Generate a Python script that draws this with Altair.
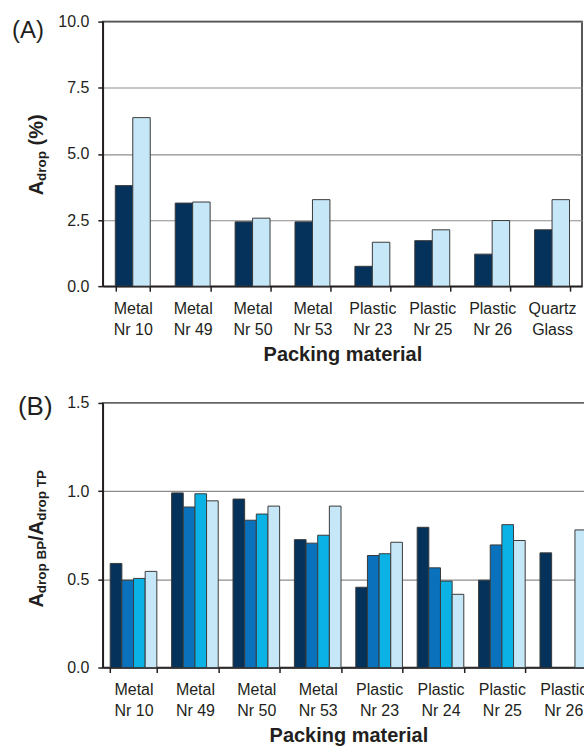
import altair as alt
import pandas as pd

# ---- data -----------------------------------------------------------------
materials_a = ["Metal|Nr 10", "Metal|Nr 49", "Metal|Nr 50", "Metal|Nr 53",
               "Plastic|Nr 23", "Plastic|Nr 25", "Plastic|Nr 26", "Quartz|Glass"]
series_a = ["A1", "A2"]
a_series1 = [3.80, 3.14, 2.43, 2.43, 0.75, 1.72, 1.21, 2.13]
a_series2 = [6.37, 3.18, 2.57, 3.27, 1.66, 2.13, 2.48, 3.27]
ticks_a = [0.0, 2.5, 5.0, 7.5, 10.0]

materials_b = ["Metal|Nr 10", "Metal|Nr 49", "Metal|Nr 50", "Metal|Nr 53",
               "Plastic|Nr 23", "Plastic|Nr 24", "Plastic|Nr 25", "Plastic|Nr 26"]
series_b = ["B1", "B2", "B3", "B4"]
b_series1 = [0.59, 0.99, 0.955, 0.725, 0.455, 0.795, 0.495, 0.65]
b_series2 = [0.495, 0.91, 0.835, 0.705, 0.635, 0.565, 0.695, None]
b_series3 = [0.505, 0.985, 0.87, 0.75, 0.645, 0.49, 0.81, None]
b_series4 = [0.545, 0.945, 0.915, 0.915, 0.71, 0.415, 0.72, 0.78]
ticks_b = [0.0, 0.5, 1.0, 1.5]

colors_a = ["#04325a", "#c6e7f8"]
colors_b = ["#04325a", "#0a72bd", "#0bb2e6", "#c6e7f8"]

FONT = "Liberation Sans"
INK = "#231f20"


def long_table(materials, series, columns):
    rows = []
    for name, vals in zip(series, columns):
        for mat, v in zip(materials, vals):
            if v is not None:
                rows.append({"material": mat, "series": name, "value": v})
    return pd.DataFrame(rows)


def text_piece(txt, size, x, y, angle=270, weight="bold", baseline="alphabetic"):
    return alt.Chart(pd.DataFrame({"t": [txt]})).mark_text(
        text=txt, font=FONT, fontSize=size, fontWeight=weight, angle=angle,
        align="left", baseline=baseline, color=INK,
    ).encode(x=alt.value(x), y=alt.value(y))


def panel(df, materials, series, colors, ymax, ticks, width, pad_inner, extras):
    bars = alt.Chart(df).mark_bar(stroke="#3a3a3a", strokeWidth=1, clip=True).encode(
        x=alt.X(
            "material:N", sort=materials, title="Packing material",
            scale=alt.Scale(domain=materials, paddingInner=pad_inner,
                            paddingOuter=pad_inner / 2),
            axis=alt.Axis(
                labelExpr="split(datum.label, '|')", labelAngle=0,
                labelFontSize=16, labelLineHeight=21.5, labelPadding=9,
                tickBand="extent", tickSize=5, titleFontSize=20,
                titleFontWeight="bold", titlePadding=7,
            ),
        ),
        xOffset=alt.XOffset("series:N", scale=alt.Scale(domain=series)),
        y=alt.Y(
            "value:Q", scale=alt.Scale(domain=[0, ymax], nice=False),
            axis=alt.Axis(values=ticks, format=".1f", title=None, grid=True,
                          gridColor="#8c8c8c", gridWidth=1.2, tickSize=5,
                          labelFontSize=16, labelPadding=9),
        ),
        color=alt.Color("series:N", scale=alt.Scale(domain=series, range=colors),
                        legend=None),
    )
    return alt.layer(bars, *extras).properties(width=width, height=265)


df_a = long_table(materials_a, series_a, [a_series1, a_series2])
df_b = long_table(materials_b, series_b, [b_series1, b_series2, b_series3, b_series4])

# y-axis titles built from pieces so the subscripts can be smaller
extras_a = [
    text_piece("(A)", 24, -91, 9, angle=0, weight="normal", baseline="middle"),
    text_piece("A", 20, -59.5, 174),
    text_piece("drop", 13.5, -56.5, 159.6),
    text_piece("(%)", 20, -59.5, 124),
]
extras_b = [
    text_piece("(B)", 26, -85, 4, angle=0, weight="normal", baseline="middle"),
    text_piece("A", 20, -59.5, 205),
    text_piece("drop BP", 13.5, -56.5, 190.6),
    text_piece("/", 20, -59.5, 138.1),
    text_piece("A", 20, -59.5, 132.5),
    text_piece("drop TP", 13.5, -56.5, 118.1),
]

top = panel(df_a, materials_a, series_a, colors_a, 10, ticks_a, 480, 25 / 60, extras_a)
bottom = panel(df_b, materials_b, series_b, colors_b, 1.5, ticks_b, 492, 14.8 / 61.5, extras_b)

# the lower panel runs past the right edge of the figure and is cut off there
chart = alt.vconcat(top, bottom, spacing=117, bounds="flush").resolve_scale(
    color="independent", xOffset="independent",
).properties(
    padding={"left": 11, "top": 12, "right": -11, "bottom": 0},
    background="white",
).configure_view(
    stroke=INK, strokeWidth=1.5,
).configure_axis(
    domainColor=INK, domainWidth=1.5, tickColor=INK, tickWidth=1.5,
    labelColor=INK, titleColor=INK, labelFont=FONT, titleFont=FONT,
)

chart.save("out.html", embed_options={"renderer": "svg", "actions": False})
